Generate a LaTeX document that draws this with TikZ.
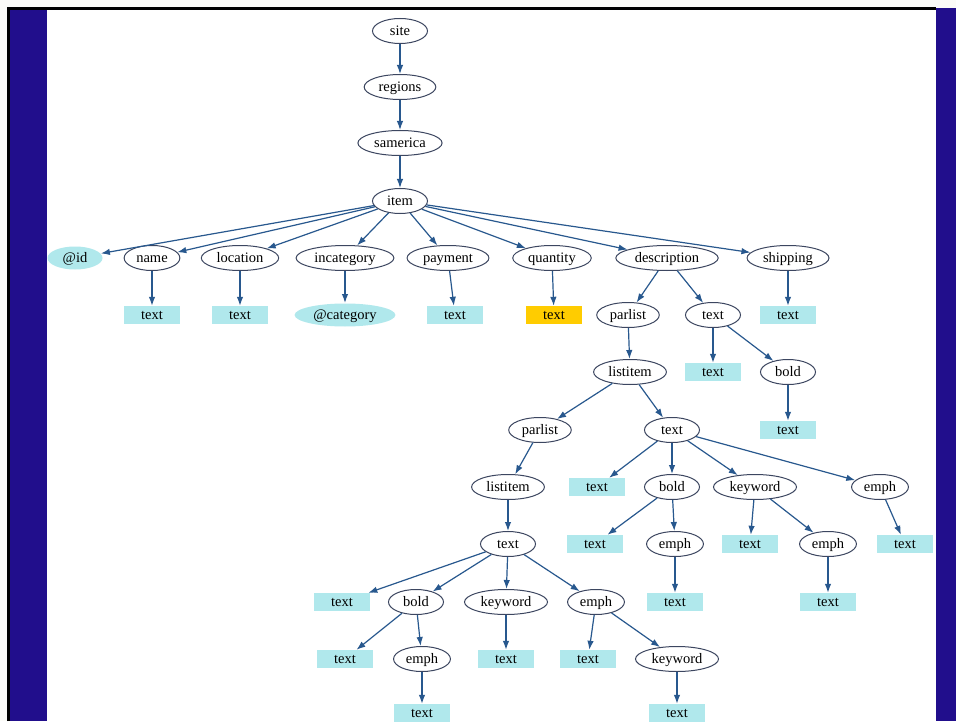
\documentclass[tikz,border=0pt]{standalone}
\usepackage{fontspec}
\setmainfont{Liberation Serif}
\usetikzlibrary{shapes.geometric,arrows.meta}

\definecolor{slide}{RGB}{33,14,140}
\definecolor{paper}{RGB}{251,251,248}
\definecolor{leafc}{RGB}{176,232,236}
\definecolor{hotc}{RGB}{255,204,0}
\definecolor{edgec}{RGB}{40,88,142}
\definecolor{linec}{RGB}{60,70,96}

\tikzset{
    elem/.style={ellipse, draw=linec, line width=1pt, fill=white,
        minimum width=55pt, minimum height=25pt, inner xsep=4pt, inner ysep=0pt,
        text height=10.5pt, text depth=2pt, font=\fontsize{14.5}{15}\selectfont},
    attr/.style={elem, draw=none, fill=leafc, minimum height=23pt},
    leaf/.style={rectangle, fill=leafc, minimum width=56pt, minimum height=18pt,
        inner sep=0pt, text height=10.5pt, text depth=2pt,
        font=\fontsize{14.5}{15}\selectfont},
    hot/.style={leaf, fill=hotc},
    link/.style={draw=edgec, line width=1.2pt, -{Latex[length=9pt,width=6.5pt]}}
}

\begin{document}
\begin{tikzpicture}[x=1pt, y=-1pt]
    % slide frame
    \fill[paper] (0,0) rectangle (956,721);
    \fill[white] (8,8) rectangle (956,721);
    \fill[slide] (9,8) rectangle (47,721);
    \fill[slide] (936,8) rectangle (956,721);
    \draw[line width=2.5pt] (8.5,721) -- (8.5,8.5) -- (936,8.5);
    \useasboundingbox (0,0) rectangle (956,721);

    % element nodes
    \foreach \n/\x/\y/\t in {
        site/400/31/site, regions/400/87/regions, samerica/400/143/samerica,
        item/400/201/item,
        name/152/258/name, loc/240/258/location, incat/345/258/incategory,
        pay/448/258/payment, qty/552/258/quantity, desc/667/258/description,
        ship/788/258/shipping,
        par/628/315/parlist, dtx/713/315/text,
        li/630/372/listitem, dbold/788/372/bold,
        par2/540/430/parlist, tx/672/430/text,
        li2/508/487/listitem, bold/672/487/bold, kw/755/487/keyword, em/880/487/emph,
        tx2/508/544/text, boldE/675/544/emph, kwE/828/544/emph,
        bold2/416/602/bold, kw2/506/602/keyword, em2/596/602/emph,
        bold2E/422/659/emph, em2K/677/659/keyword}
    {\node[elem] (\n) at (\x,\y) {\t};}

    % attributes
    \node[attr] (id) at (75,258) {@id};
    \node[attr, minimum width=100pt] (cat) at (345,315) {@category};

    % text leaves
    \foreach \n/\x/\y in {
        nameT/152/315, locT/240/315, payT/455/315, shipT/788/315,
        dtxT/713/372, dboldT/788/430,
        txA/597/487, boldT/595/544, kwT/750/544, emT/905/544,
        tx2A/342/602, boldET/675/602, kwET/828/602,
        bold2T/345/659, kw2T/506/659, em2T/588/659,
        bold2ET/422/713, em2KT/677/713}
    {\node[leaf] (\n) at (\x,\y) {text};}
    \node[hot] (qtyT) at (554,315) {text};

    % edges
    \foreach \a/\b in {
        site/regions, regions/samerica, samerica/item,
        item/id, item/name, item/loc, item/incat, item/pay, item/qty, item/desc, item/ship,
        name/nameT, loc/locT, incat/cat, pay/payT, qty/qtyT, ship/shipT,
        desc/par, desc/dtx, dtx/dtxT, dtx/dbold, dbold/dboldT,
        par/li, li/par2, li/tx, par2/li2, li2/tx2,
        tx/txA, tx/bold, tx/kw, tx/em,
        bold/boldT, bold/boldE, kw/kwT, kw/kwE, em/emT,
        boldE/boldET, kwE/kwET,
        tx2/tx2A, tx2/bold2, tx2/kw2, tx2/em2,
        bold2/bold2T, bold2/bold2E, kw2/kw2T, em2/em2T, em2/em2K,
        bold2E/bold2ET, em2K/em2KT}
    {\draw[link] (\a) -- (\b);}
\end{tikzpicture}
\end{document}
